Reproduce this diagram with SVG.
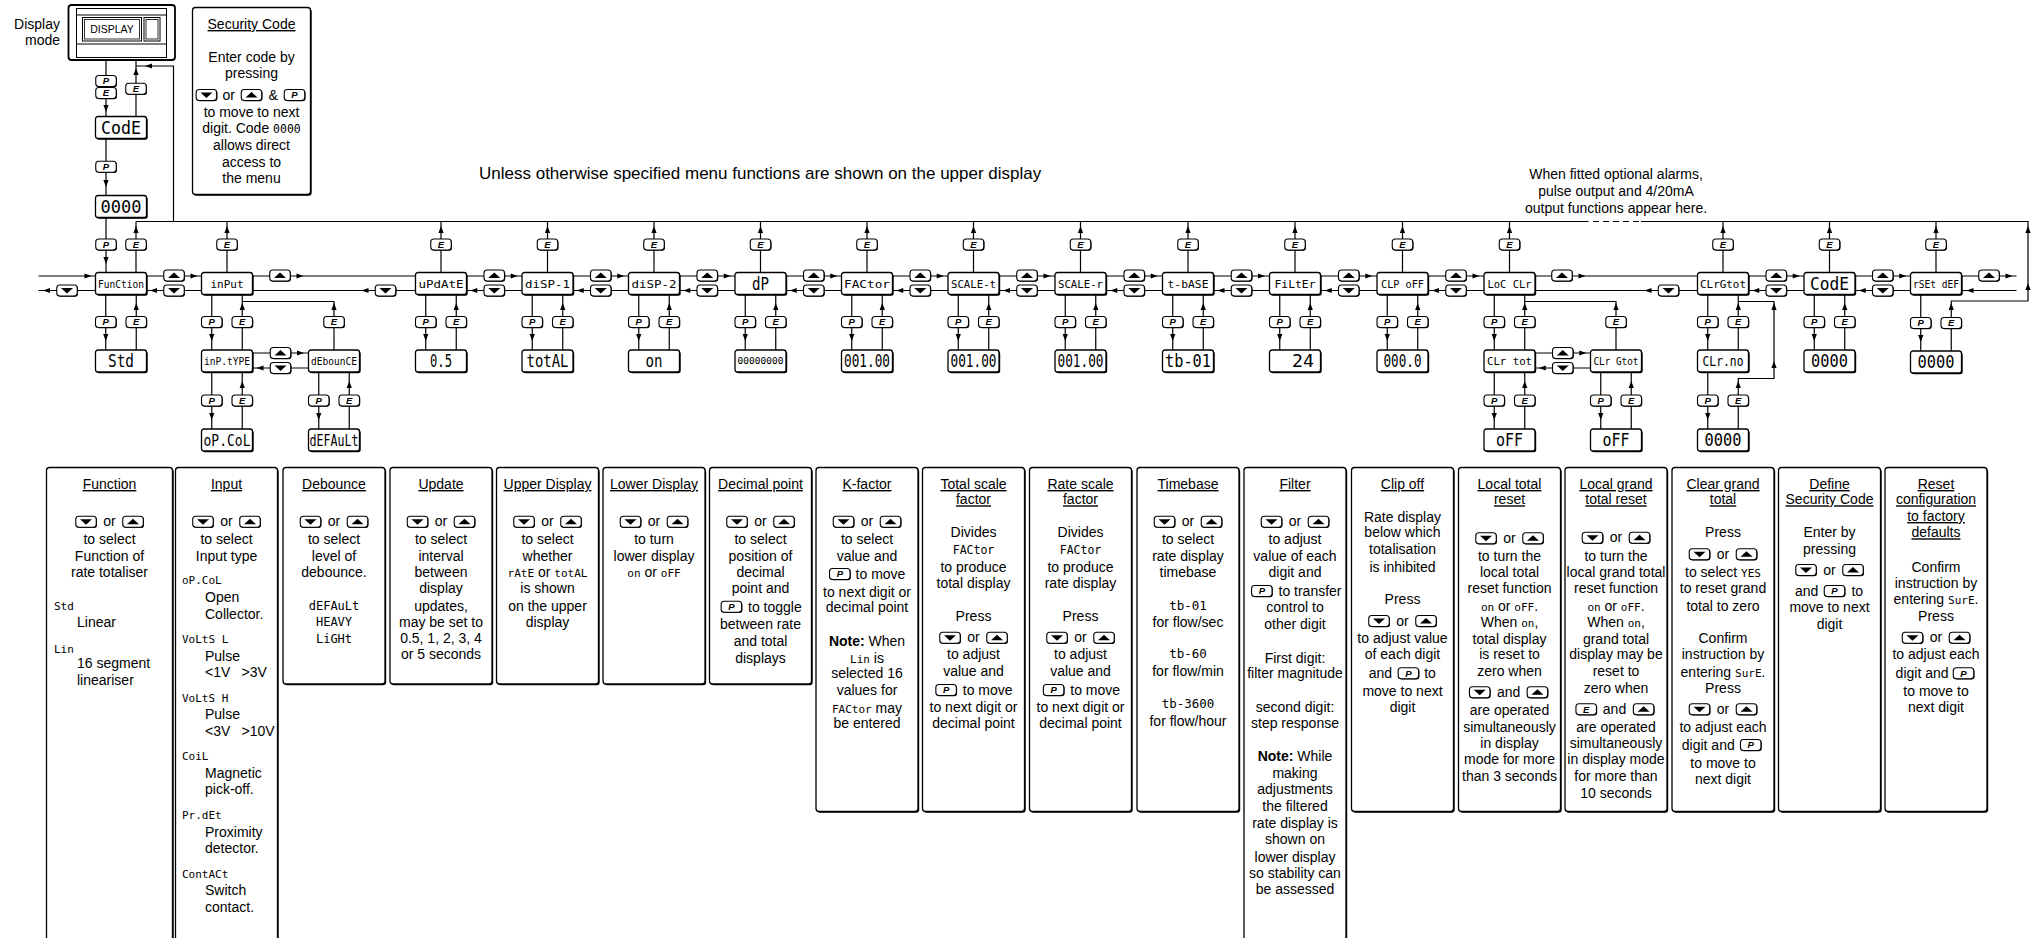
<svg xmlns="http://www.w3.org/2000/svg" width="2040" height="938" viewBox="0 0 2040 938">
<style>
.ln{fill:none;stroke:#000;stroke-width:1.2}
.bx{fill:#fff;stroke:#000;stroke-width:1.3}
.sd{fill:#000}
.t{font-family:"Liberation Sans",Arial,sans-serif;font-size:14px;fill:#000}
.m{text-anchor:middle}
.e{text-anchor:end}
.u{text-decoration:underline}
.b{font-weight:bold}
.sg{font-family:"DejaVu Sans Mono","Liberation Mono",monospace;font-size:11px}
.s7{font-family:"DejaVu Sans Mono","Liberation Mono",monospace;fill:#000;text-anchor:middle}
.bl{font-family:"Liberation Sans",Arial,sans-serif;font-size:9.5px;font-weight:bold;font-style:italic;text-anchor:middle;fill:#000}
</style>
<defs>
<g id="btn"><rect x="-9.5" y="-4.7" width="20.5" height="11" rx="3" fill="#000"/><rect x="-10.25" y="-5.5" width="20.5" height="11" rx="3" fill="#fff" stroke="#000" stroke-width="1.1"/></g>
<g id="bP"><use href="#btn"/><text class="bl" x="0" y="3.4">P</text></g>
<g id="bE"><use href="#btn"/><text class="bl" x="0" y="3.4">E</text></g>
<g id="bU"><use href="#btn"/><path d="M-6,2.5H6L0,-3Z"/></g>
<g id="bD"><use href="#btn"/><path d="M-6,-2.5H6L0,3Z"/></g>
<path id="au" d="M0,0L-2.6,7H2.6Z"/>
<path id="ad" d="M0,0L-2.6,-7H2.6Z"/>
<path id="ar" d="M0,0L-7,-2.6V2.6Z"/>
<path id="al" d="M0,0L7,-2.6V2.6Z"/>
<g id="nb"><rect x="-24.3" y="1.2" width="51" height="22" rx="2.5" fill="#000"/><rect x="-25.5" y="0" width="51" height="22" rx="2.5" fill="#fff" stroke="#000" stroke-width="1.3"/></g>
</defs>
<rect width="2040" height="938" fill="#fff"/>

<text class="t" x="479" y="178.5" style="font-size:17px">Unless otherwise specified menu functions are shown on the upper display</text>
<text class="t m" x="1616" y="179">When fitted optional alarms,</text>
<text class="t m" x="1616" y="196">pulse output and 4/20mA</text>
<text class="t m" x="1616" y="212.7">output functions appear here.</text>

<g id="connectors">
<path class="ln" d="M136,221.5H1588.5M1641,221.5H2028V301H1951.25V351M173.5,221.5V66H136M136,116.5V60M106,60V116.5M106,138.5V195.5M106,217.5V272.5M136,272.5V221.5M38.5,276H2016.5M38.5,290.5H2016.5M227,272.5V221.5M441,272.5V221.5M547.5,272.5V221.5M654,272.5V221.5M760.5,272.5V221.5M867,272.5V221.5M973.5,272.5V221.5M1080.5,272.5V221.5M1188,272.5V221.5M1295,272.5V221.5M1402.5,272.5V221.5M1509.5,272.5V221.5M1723,272.5V221.5M1829.5,272.5V221.5M1936,272.5V221.5M105.75,294.5V350M136.25,294.5V350M211.75,294.5V350M242.25,294.5V350M425.75,294.5V350M456.25,294.5V350M532.25,294.5V350M562.75,294.5V350M638.75,294.5V350M669.25,294.5V350M745.25,294.5V350M775.75,294.5V350M851.75,294.5V350M882.25,294.5V350M958.25,294.5V350M988.75,294.5V350M1065.25,294.5V350M1095.75,294.5V350M1172.75,294.5V350M1203.25,294.5V350M1279.75,294.5V350M1310.25,294.5V350M1387.25,294.5V350M1417.75,294.5V350M1494.25,294.5V350M1524.75,294.5V350M1707.75,294.5V350M1738.25,294.5V350M1814.25,294.5V350M1844.75,294.5V350M1920.75,294.5V351M242.25,301.5H334V350M1524.75,301.5H1616V350M1738.25,429V378.5H1774V301.5H1738.25M252.5,353H308.5M252.5,368H308.5M1535,353H1590.5M1535,368H1590.5M211.75,372V429M242.25,372V429M318.75,372V429M349.25,372V429M1494.25,372V429M1524.75,372V429M1600.75,372V429M1631.25,372V429M1707.75,372V429"/>
<path class="ln" d="M1593,221.5H1641" stroke-dasharray="6,4"/>
<!-- top E buttons and arrows -->
<use href="#bP" x="106" y="244.5"/>
<use href="#bE" x="136" y="244.5"/><use href="#bE" x="227" y="244.5"/><use href="#bE" x="441" y="244.5"/><use href="#bE" x="547.5" y="244.5"/><use href="#bE" x="654" y="244.5"/><use href="#bE" x="760.5" y="244.5"/><use href="#bE" x="867" y="244.5"/><use href="#bE" x="973.5" y="244.5"/><use href="#bE" x="1080.5" y="244.5"/><use href="#bE" x="1188" y="244.5"/><use href="#bE" x="1295" y="244.5"/><use href="#bE" x="1402.5" y="244.5"/><use href="#bE" x="1509.5" y="244.5"/><use href="#bE" x="1723" y="244.5"/><use href="#bE" x="1829.5" y="244.5"/><use href="#bE" x="1936" y="244.5"/>
<use href="#au" x="136" y="226"/><use href="#au" x="227" y="226"/><use href="#au" x="441" y="226"/><use href="#au" x="547.5" y="226"/><use href="#au" x="654" y="226"/><use href="#au" x="760.5" y="226"/><use href="#au" x="867" y="226"/><use href="#au" x="973.5" y="226"/><use href="#au" x="1080.5" y="226"/><use href="#au" x="1188" y="226"/><use href="#au" x="1295" y="226"/><use href="#au" x="1402.5" y="226"/><use href="#au" x="1509.5" y="226"/><use href="#au" x="1723" y="226"/><use href="#au" x="1829.5" y="226"/><use href="#au" x="1936" y="226"/><use href="#au" x="2028" y="226"/>
<!-- left column -->
<use href="#bP" x="106" y="81"/><use href="#bE" x="106" y="93"/><use href="#bE" x="136" y="88.7"/><use href="#bP" x="106" y="166.7"/>
<use href="#au" x="136" y="68"/><use href="#al" x="145" y="66"/><use href="#ad" x="106" y="112"/><use href="#ad" x="106" y="187"/><use href="#ad" x="106" y="264"/>
<!-- row 2 P/E -->
<use href="#bP" x="105.75" y="322"/><use href="#bP" x="211.75" y="322"/><use href="#bP" x="425.75" y="322"/><use href="#bP" x="532.25" y="322"/><use href="#bP" x="638.75" y="322"/><use href="#bP" x="745.25" y="322"/><use href="#bP" x="851.75" y="322"/><use href="#bP" x="958.25" y="322"/><use href="#bP" x="1065.25" y="322"/><use href="#bP" x="1172.75" y="322"/><use href="#bP" x="1279.75" y="322"/><use href="#bP" x="1387.25" y="322"/><use href="#bP" x="1494.25" y="322"/><use href="#bP" x="1707.75" y="322"/><use href="#bP" x="1814.25" y="322"/><use href="#bP" x="1920.75" y="323"/>
<use href="#bE" x="136.25" y="322"/><use href="#bE" x="242.25" y="322"/><use href="#bE" x="334" y="322"/><use href="#bE" x="456.25" y="322"/><use href="#bE" x="562.75" y="322"/><use href="#bE" x="669.25" y="322"/><use href="#bE" x="775.75" y="322"/><use href="#bE" x="882.25" y="322"/><use href="#bE" x="988.75" y="322"/><use href="#bE" x="1095.75" y="322"/><use href="#bE" x="1203.25" y="322"/><use href="#bE" x="1310.25" y="322"/><use href="#bE" x="1417.75" y="322"/><use href="#bE" x="1524.75" y="322"/><use href="#bE" x="1616" y="322"/><use href="#bE" x="1738.25" y="322"/><use href="#bE" x="1844.75" y="322"/><use href="#bE" x="1951.25" y="323"/>
<use href="#ad" x="105.75" y="341"/><use href="#ad" x="211.75" y="341"/><use href="#ad" x="425.75" y="341"/><use href="#ad" x="532.25" y="341"/><use href="#ad" x="638.75" y="341"/><use href="#ad" x="745.25" y="341"/><use href="#ad" x="851.75" y="341"/><use href="#ad" x="958.25" y="341"/><use href="#ad" x="1065.25" y="341"/><use href="#ad" x="1172.75" y="341"/><use href="#ad" x="1279.75" y="341"/><use href="#ad" x="1387.25" y="341"/><use href="#ad" x="1494.25" y="341"/><use href="#ad" x="1707.75" y="341"/><use href="#ad" x="1814.25" y="341"/><use href="#ad" x="1920.75" y="342"/>
<use href="#au" x="136.25" y="303"/><use href="#au" x="242.25" y="303"/><use href="#au" x="334" y="303"/><use href="#au" x="456.25" y="303"/><use href="#au" x="562.75" y="303"/><use href="#au" x="669.25" y="303"/><use href="#au" x="775.75" y="303"/><use href="#au" x="882.25" y="303"/><use href="#au" x="988.75" y="303"/><use href="#au" x="1095.75" y="303"/><use href="#au" x="1203.25" y="303"/><use href="#au" x="1310.25" y="303"/><use href="#au" x="1417.75" y="303"/><use href="#au" x="1524.75" y="303"/><use href="#au" x="1616" y="303"/><use href="#au" x="1738.25" y="303"/><use href="#au" x="1774" y="303"/><use href="#au" x="1774" y="361"/><use href="#au" x="1844.75" y="303"/><use href="#au" x="1951.25" y="303"/><use href="#au" x="2028" y="283"/>
<!-- row 3 P/E -->
<use href="#bP" x="211.75" y="400.5"/><use href="#bE" x="242.25" y="400.5"/><use href="#bP" x="318.75" y="400.5"/><use href="#bE" x="349.25" y="400.5"/><use href="#bP" x="1494.25" y="400.5"/><use href="#bE" x="1524.75" y="400.5"/><use href="#bP" x="1600.75" y="400.5"/><use href="#bE" x="1631.25" y="400.5"/><use href="#bP" x="1707.75" y="400.5"/><use href="#bE" x="1738.25" y="400.5"/>
<use href="#ad" x="211.75" y="420"/><use href="#ad" x="318.75" y="420"/><use href="#ad" x="1494.25" y="420"/><use href="#ad" x="1600.75" y="420"/><use href="#ad" x="1707.75" y="420"/>
<use href="#au" x="242.25" y="381"/><use href="#au" x="349.25" y="381"/><use href="#au" x="1524.75" y="381"/><use href="#au" x="1631.25" y="381"/><use href="#au" x="1738.25" y="381"/>
<!-- horizontal scroll buttons -->
<use href="#bD" x="67" y="290.5"/>
<use href="#bU" x="174" y="275.5"/><use href="#bD" x="174" y="290.5"/>
<use href="#bU" x="280" y="275.5"/><use href="#bD" x="385.5" y="290.5"/>
<use href="#bU" x="494.25" y="275.5"/><use href="#bD" x="494.25" y="290.5"/>
<use href="#bU" x="600.75" y="275.5"/><use href="#bD" x="600.75" y="290.5"/>
<use href="#bU" x="707.25" y="275.5"/><use href="#bD" x="707.25" y="290.5"/>
<use href="#bU" x="813.75" y="275.5"/><use href="#bD" x="813.75" y="290.5"/>
<use href="#bU" x="920.25" y="275.5"/><use href="#bD" x="920.25" y="290.5"/>
<use href="#bU" x="1027" y="275.5"/><use href="#bD" x="1027" y="290.5"/>
<use href="#bU" x="1134.25" y="275.5"/><use href="#bD" x="1134.25" y="290.5"/>
<use href="#bU" x="1241.5" y="275.5"/><use href="#bD" x="1241.5" y="290.5"/>
<use href="#bU" x="1348.75" y="275.5"/><use href="#bD" x="1348.75" y="290.5"/>
<use href="#bU" x="1456" y="275.5"/><use href="#bD" x="1456" y="290.5"/>
<use href="#bU" x="1562" y="275.5"/><use href="#bD" x="1668.5" y="290.5"/>
<use href="#bU" x="1776.25" y="275.5"/><use href="#bD" x="1776.25" y="290.5"/>
<use href="#bU" x="1882.75" y="275.5"/><use href="#bD" x="1882.75" y="290.5"/>
<use href="#bU" x="1989" y="275.5"/>
<use href="#bU" x="280.5" y="353"/><use href="#bD" x="280.5" y="368"/>
<use href="#bU" x="1562.75" y="353"/><use href="#bD" x="1562.75" y="368"/>
<use href="#ar" x="91.5" y="276"/><use href="#ar" x="197.5" y="276"/><use href="#ar" x="303.5" y="276"/><use href="#ar" x="517.75" y="276"/><use href="#ar" x="624.25" y="276"/><use href="#ar" x="730.75" y="276"/><use href="#ar" x="837.25" y="276"/><use href="#ar" x="943.75" y="276"/><use href="#ar" x="1050.5" y="276"/><use href="#ar" x="1157.75" y="276"/><use href="#ar" x="1265" y="276"/><use href="#ar" x="1372.25" y="276"/><use href="#ar" x="1479.5" y="276"/><use href="#ar" x="1585.5" y="276"/><use href="#ar" x="1799.75" y="276"/><use href="#ar" x="1906.25" y="276"/><use href="#ar" x="2012.5" y="276"/>
<use href="#al" x="43" y="290.5"/><use href="#al" x="150" y="290.5"/><use href="#al" x="361.5" y="290.5"/><use href="#al" x="470.25" y="290.5"/><use href="#al" x="576.75" y="290.5"/><use href="#al" x="683.25" y="290.5"/><use href="#al" x="789.75" y="290.5"/><use href="#al" x="896.25" y="290.5"/><use href="#al" x="1003" y="290.5"/><use href="#al" x="1110.25" y="290.5"/><use href="#al" x="1217.5" y="290.5"/><use href="#al" x="1324.75" y="290.5"/><use href="#al" x="1432" y="290.5"/><use href="#al" x="1644.5" y="290.5"/><use href="#al" x="1752.25" y="290.5"/><use href="#al" x="1858.75" y="290.5"/><use href="#al" x="1966.5" y="290.5"/>
<use href="#ar" x="304" y="353"/><use href="#al" x="256.5" y="368"/><use href="#ar" x="1586.25" y="353"/><use href="#al" x="1538.75" y="368"/>
</g>

<g id="display-mode">
<rect x="68.5" y="5" width="106.5" height="55" rx="3" fill="#fff" stroke="#000" stroke-width="1.8"/>
<rect x="76.5" y="8.5" width="90" height="49" fill="none" stroke="#000" stroke-width="1"/>
<path d="M76.5,15H166.5M76.5,44H166.5" fill="none" stroke="#000" stroke-width="1"/>
<rect x="82.5" y="17.5" width="59" height="23.5" fill="none" stroke="#000" stroke-width="1"/>
<rect x="84.5" y="19.5" width="55" height="19.5" fill="none" stroke="#000" stroke-width="0.8"/>
<rect x="144" y="17.5" width="16" height="23.5" fill="none" stroke="#000" stroke-width="1"/>
<rect x="146" y="19.5" width="12" height="19.5" fill="none" stroke="#000" stroke-width="0.8"/>
<text class="t m" x="112" y="32.5" style="font-size:10.5px">DISPLAY</text>
<text class="t e" x="60" y="29">Display</text>
<text class="t e" x="60" y="45">mode</text>
</g>

<g id="security-code">
<rect class="sd" x="193.7" y="8.7" width="118" height="187" rx="3"/>
<rect class="bx" x="192.5" y="7.5" width="118" height="187" rx="3"/>
<text class="t m u" x="251.5" y="29">Security Code</text>
<text class="t m" x="251.5" y="61.7">Enter code by</text>
<text class="t m" x="251.5" y="77.7">pressing</text>
<use href="#bD" x="206.4" y="95"/><text class="t m" x="228.8" y="99.5">or</text><use href="#bU" x="251.5" y="95"/><text class="t m" x="273.2" y="100">&amp;</text><use href="#bP" x="294.5" y="95"/>
<text class="t m" x="251.5" y="116.7">to move to next</text>
<text class="t m" x="251.5" y="133.3">digit. Code <tspan class="sg" style="font-size:11.5px">0000</tspan></text>
<text class="t m" x="251.5" y="150">allows direct</text>
<text class="t m" x="251.5" y="166.7">access to</text>
<text class="t m" x="251.5" y="183.3">the menu</text>
</g>

<g id="n-code"><use href="#nb" x="121" y="116.5"/><text class="s7" x="121" y="133.7" font-size="17" textLength="40" lengthAdjust="spacingAndGlyphs">CodE</text></g>
<g id="n-code-value"><use href="#nb" x="121" y="195.5"/><text class="s7" x="121" y="212.7" font-size="17" textLength="41" lengthAdjust="spacingAndGlyphs">0000</text></g>

<g id="n-function"><use href="#nb" x="121" y="272.5"/><text class="s7" x="121" y="287.5" font-size="11" textLength="46" lengthAdjust="spacingAndGlyphs">FunCtion</text></g>
<g id="n-input"><use href="#nb" x="227" y="272.5"/><text class="s7" x="227" y="287.5" font-size="11" textLength="33" lengthAdjust="spacingAndGlyphs">inPut</text></g>
<g id="n-update"><use href="#nb" x="441" y="272.5"/><text class="s7" x="441" y="287.5" font-size="11" textLength="45" lengthAdjust="spacingAndGlyphs">uPdAtE</text></g>
<g id="n-disp1"><use href="#nb" x="547.5" y="272.5"/><text class="s7" x="547.5" y="287.5" font-size="11" textLength="45" lengthAdjust="spacingAndGlyphs">diSP-1</text></g>
<g id="n-disp2"><use href="#nb" x="654" y="272.5"/><text class="s7" x="654" y="287.5" font-size="11" textLength="45" lengthAdjust="spacingAndGlyphs">diSP-2</text></g>
<g id="n-dp"><use href="#nb" x="760.5" y="272.5"/><text class="s7" x="760.5" y="289.7" font-size="17" textLength="17" lengthAdjust="spacingAndGlyphs">dP</text></g>
<g id="n-factor"><use href="#nb" x="867" y="272.5"/><text class="s7" x="867" y="287.5" font-size="11" textLength="46" lengthAdjust="spacingAndGlyphs">FACtor</text></g>
<g id="n-scale-t"><use href="#nb" x="973.5" y="272.5"/><text class="s7" x="973.5" y="287.5" font-size="11" textLength="45" lengthAdjust="spacingAndGlyphs">SCALE-t</text></g>
<g id="n-scale-r"><use href="#nb" x="1080.5" y="272.5"/><text class="s7" x="1080.5" y="287.5" font-size="11" textLength="45" lengthAdjust="spacingAndGlyphs">SCALE-r</text></g>
<g id="n-tbase"><use href="#nb" x="1188" y="272.5"/><text class="s7" x="1188" y="287.5" font-size="11" textLength="41" lengthAdjust="spacingAndGlyphs">t-bASE</text></g>
<g id="n-filter"><use href="#nb" x="1295" y="272.5"/><text class="s7" x="1295" y="287.5" font-size="11" textLength="41" lengthAdjust="spacingAndGlyphs">FiLtEr</text></g>
<g id="n-clpoff"><use href="#nb" x="1402.5" y="272.5"/><text class="s7" x="1402.5" y="287.5" font-size="11" textLength="43" lengthAdjust="spacingAndGlyphs">CLP oFF</text></g>
<g id="n-locclr"><use href="#nb" x="1509.5" y="272.5"/><text class="s7" x="1509.5" y="287.5" font-size="11" textLength="44" lengthAdjust="spacingAndGlyphs">LoC CLr</text></g>
<g id="n-clrgtot"><use href="#nb" x="1723" y="272.5"/><text class="s7" x="1723" y="287.5" font-size="11" textLength="46" lengthAdjust="spacingAndGlyphs">CLrGtot</text></g>
<g id="n-code2"><use href="#nb" x="1829.5" y="272.5"/><text class="s7" x="1829.5" y="289.7" font-size="17" textLength="39" lengthAdjust="spacingAndGlyphs">CodE</text></g>
<g id="n-rsetdef"><use href="#nb" x="1936" y="272.5"/><text class="s7" x="1936" y="287.5" font-size="11" textLength="46" lengthAdjust="spacingAndGlyphs">rSEt dEF</text></g>

<g id="n-std"><use href="#nb" x="121" y="350"/><text class="s7" x="121" y="367.2" font-size="17" textLength="26" lengthAdjust="spacingAndGlyphs">Std</text></g>
<g id="n-inptype"><use href="#nb" x="227" y="350"/><text class="s7" x="227" y="365" font-size="11" textLength="46" lengthAdjust="spacingAndGlyphs">inP.tYPE</text></g>
<g id="n-debounce"><use href="#nb" x="334" y="350"/><text class="s7" x="334" y="365" font-size="11" textLength="46" lengthAdjust="spacingAndGlyphs">dEbounCE</text></g>
<g id="n-update-value"><use href="#nb" x="441" y="350"/><text class="s7" x="441" y="367.2" font-size="17" textLength="22" lengthAdjust="spacingAndGlyphs">0.5</text></g>
<g id="n-disp1-value"><use href="#nb" x="547.5" y="350"/><text class="s7" x="547.5" y="367.2" font-size="17" textLength="42" lengthAdjust="spacingAndGlyphs">totAL</text></g>
<g id="n-disp2-value"><use href="#nb" x="654" y="350"/><text class="s7" x="654" y="366.5" font-size="17" textLength="17" lengthAdjust="spacingAndGlyphs">on</text></g>
<g id="n-dp-value"><use href="#nb" x="760.5" y="350"/><text class="s7" x="760.5" y="364" font-size="8.5" textLength="46" lengthAdjust="spacingAndGlyphs">00000000</text></g>
<g id="n-factor-value"><use href="#nb" x="867" y="350"/><text class="s7" x="867" y="367.2" font-size="17" textLength="46" lengthAdjust="spacingAndGlyphs">001.00</text></g>
<g id="n-scale-t-value"><use href="#nb" x="973.5" y="350"/><text class="s7" x="973.5" y="367.2" font-size="17" textLength="46" lengthAdjust="spacingAndGlyphs">001.00</text></g>
<g id="n-scale-r-value"><use href="#nb" x="1080.5" y="350"/><text class="s7" x="1080.5" y="367.2" font-size="17" textLength="46" lengthAdjust="spacingAndGlyphs">001.00</text></g>
<g id="n-tbase-value"><use href="#nb" x="1188" y="350"/><text class="s7" x="1188" y="367.2" font-size="17" textLength="46" lengthAdjust="spacingAndGlyphs">tb-01</text></g>
<g id="n-filter-value"><use href="#nb" x="1295" y="350"/><text class="s7" x="1314" y="367.2" font-size="17" text-anchor="end" style="text-anchor:end" textLength="22" lengthAdjust="spacingAndGlyphs">24</text></g>
<g id="n-clpoff-value"><use href="#nb" x="1402.5" y="350"/><text class="s7" x="1402.5" y="367.2" font-size="17" textLength="38" lengthAdjust="spacingAndGlyphs">000.0</text></g>
<g id="n-clrtot"><use href="#nb" x="1509.5" y="350"/><text class="s7" x="1509.5" y="365" font-size="11" textLength="45" lengthAdjust="spacingAndGlyphs">CLr tot</text></g>
<g id="n-clrgtot-sub"><use href="#nb" x="1616" y="350"/><text class="s7" x="1616" y="365" font-size="11" textLength="45" lengthAdjust="spacingAndGlyphs">CLr Gtot</text></g>
<g id="n-clrno"><use href="#nb" x="1723" y="350"/><text class="s7" x="1723" y="366" font-size="14" textLength="41" lengthAdjust="spacingAndGlyphs">CLr.no</text></g>
<g id="n-code2-value"><use href="#nb" x="1829.5" y="350"/><text class="s7" x="1829.5" y="367.2" font-size="17" textLength="37" lengthAdjust="spacingAndGlyphs">0000</text></g>
<g id="n-rsetdef-value"><use href="#nb" x="1936" y="351"/><text class="s7" x="1936" y="368.2" font-size="17" textLength="37" lengthAdjust="spacingAndGlyphs">0000</text></g>

<g id="n-opcol"><use href="#nb" x="227" y="429"/><text class="s7" x="227" y="445.5" font-size="15" textLength="47" lengthAdjust="spacingAndGlyphs">oP.CoL</text></g>
<g id="n-default"><use href="#nb" x="334" y="429"/><text class="s7" x="334" y="445.5" font-size="15" textLength="49" lengthAdjust="spacingAndGlyphs">dEFAuLt</text></g>
<g id="n-clrtot-value"><use href="#nb" x="1509.5" y="429"/><text class="s7" x="1509.5" y="446.2" font-size="17" textLength="27" lengthAdjust="spacingAndGlyphs">oFF</text></g>
<g id="n-clrgtot-value"><use href="#nb" x="1616" y="429"/><text class="s7" x="1616" y="446.2" font-size="17" textLength="27" lengthAdjust="spacingAndGlyphs">oFF</text></g>
<g id="n-clrno-value"><use href="#nb" x="1723" y="429"/><text class="s7" x="1723" y="446.2" font-size="17" textLength="37" lengthAdjust="spacingAndGlyphs">0000</text></g>

<g id="d-function">
<rect class="sd" x="47.7" y="468.7" width="126" height="480" rx="3"/><rect class="bx" x="46.5" y="467.5" width="126" height="480" rx="3"/>
<text class="t m u" x="109.5" y="489">Function</text>
<use href="#bD" x="86" y="521.7"/><text class="t m" x="109.5" y="526.2">or</text><use href="#bU" x="133" y="521.7"/>
<text class="t m" x="109.5" y="544">to select</text>
<text class="t m" x="109.5" y="560.7">Function of</text>
<text class="t m" x="109.5" y="576.7">rate totaliser</text>
<text class="sg" x="54" y="610">Std</text>
<text class="t" x="77" y="626.7">Linear</text>
<text class="sg" x="54" y="652.5">Lin</text>
<text class="t" x="77" y="668.3">16 segment</text>
<text class="t" x="77" y="685">lineariser</text>
</g>

<g id="d-input">
<rect class="sd" x="176.7" y="468.7" width="102" height="480" rx="3"/><rect class="bx" x="175.5" y="467.5" width="102" height="480" rx="3"/>
<text class="t m u" x="226.5" y="489">Input</text>
<use href="#bD" x="203" y="521.7"/><text class="t m" x="226.5" y="526.2">or</text><use href="#bU" x="250" y="521.7"/>
<text class="t m" x="226.5" y="544">to select</text>
<text class="t m" x="226.5" y="560.7">Input type</text>
<text class="sg" x="182" y="584">oP.CoL</text>
<text class="t" x="205" y="602.3">Open</text>
<text class="t" x="205" y="619">Collector.</text>
<text class="sg" x="182" y="643.3">VoLtS L</text>
<text class="t" x="205" y="661">Pulse</text>
<text class="t" y="677"><tspan x="205">&lt;1V</tspan><tspan x="241.6">&gt;3V</tspan></text>
<text class="sg" x="182" y="701.7">VoLtS H</text>
<text class="t" x="205" y="719.3">Pulse</text>
<text class="t" y="735.7"><tspan x="205">&lt;3V</tspan><tspan x="241.6">&gt;10V</tspan></text>
<text class="sg" x="182" y="760">CoiL</text>
<text class="t" x="205" y="778.3">Magnetic</text>
<text class="t" x="205" y="794.3">pick-off.</text>
<text class="sg" x="182" y="819">Pr.dEt</text>
<text class="t" x="205" y="836.7">Proximity</text>
<text class="t" x="205" y="853.3">detector.</text>
<text class="sg" x="182" y="878.3">ContACt</text>
<text class="t" x="205" y="895">Switch</text>
<text class="t" x="205" y="911.7">contact.</text>
</g>

<g id="d-debounce">
<rect class="sd" x="284.2" y="468.7" width="102" height="216.5" rx="3"/><rect class="bx" x="283" y="467.5" width="102" height="216.5" rx="3"/>
<text class="t m u" x="334" y="489">Debounce</text>
<use href="#bD" x="310.5" y="521.7"/><text class="t m" x="334" y="526.2">or</text><use href="#bU" x="357.5" y="521.7"/>
<text class="t m" x="334" y="544">to select</text>
<text class="t m" x="334" y="560.7">level of</text>
<text class="t m" x="334" y="576.7">debounce.</text>
<text class="s7" x="334" y="610" font-size="12">dEFAuLt</text>
<text class="s7" x="334" y="626" font-size="12">HEAVY</text>
<text class="s7" x="334" y="643" font-size="12">LiGHt</text>
</g>

<g id="d-update">
<rect class="sd" x="391.2" y="468.7" width="102" height="216.5" rx="3"/><rect class="bx" x="390" y="467.5" width="102" height="216.5" rx="3"/>
<text class="t m u" x="441" y="489">Update</text>
<use href="#bD" x="417.5" y="521.7"/><text class="t m" x="441" y="526.2">or</text><use href="#bU" x="464.5" y="521.7"/>
<text class="t m" x="441" y="544">to select</text>
<text class="t m" x="441" y="560.7">interval</text>
<text class="t m" x="441" y="576.7">between</text>
<text class="t m" x="441" y="593.3">display</text>
<text class="t m" x="441" y="610.7">updates,</text>
<text class="t m" x="441" y="626.7">may be set to</text>
<text class="t m" x="441" y="643.3">0.5, 1, 2, 3, 4</text>
<text class="t m" x="441" y="659.3">or 5 seconds</text>
</g>

<g id="d-upper-display">
<rect class="sd" x="497.7" y="468.7" width="102" height="216.5" rx="3"/><rect class="bx" x="496.5" y="467.5" width="102" height="216.5" rx="3"/>
<text class="t m u" x="547.5" y="489">Upper Display</text>
<use href="#bD" x="524" y="521.7"/><text class="t m" x="547.5" y="526.2">or</text><use href="#bU" x="571" y="521.7"/>
<text class="t m" x="547.5" y="544">to select</text>
<text class="t m" x="547.5" y="560.7">whether</text>
<text class="t m" x="547.5" y="576.7"><tspan class="sg">rAtE</tspan> or <tspan class="sg">totAL</tspan></text>
<text class="t m" x="547.5" y="593.3">is shown</text>
<text class="t m" x="547.5" y="610.7">on the upper</text>
<text class="t m" x="547.5" y="626.7">display</text>
</g>

<g id="d-lower-display">
<rect class="sd" x="604.2" y="468.7" width="102" height="216.5" rx="3"/><rect class="bx" x="603" y="467.5" width="102" height="216.5" rx="3"/>
<text class="t m u" x="654" y="489">Lower Display</text>
<use href="#bD" x="630.5" y="521.7"/><text class="t m" x="654" y="526.2">or</text><use href="#bU" x="677.5" y="521.7"/>
<text class="t m" x="654" y="544">to turn</text>
<text class="t m" x="654" y="560.7">lower display</text>
<text class="t m" x="654" y="576.7"><tspan class="sg">on</tspan> or <tspan class="sg">oFF</tspan></text>
</g>

<g id="d-decimal-point">
<rect class="sd" x="710.7" y="468.7" width="102" height="216.5" rx="3"/><rect class="bx" x="709.5" y="467.5" width="102" height="216.5" rx="3"/>
<text class="t m u" x="760.5" y="489">Decimal point</text>
<use href="#bD" x="737" y="521.7"/><text class="t m" x="760.5" y="526.2">or</text><use href="#bU" x="784" y="521.7"/>
<text class="t m" x="760.5" y="544">to select</text>
<text class="t m" x="760.5" y="560.7">position of</text>
<text class="t m" x="760.5" y="576.7">decimal</text>
<text class="t m" x="760.5" y="593.3">point and</text>
<use href="#bP" x="731.4" y="606.7"/><text class="t" x="748" y="611.7">to toggle</text>
<text class="t m" x="760.5" y="629.3">between rate</text>
<text class="t m" x="760.5" y="645.7">and total</text>
<text class="t m" x="760.5" y="662.7">displays</text>
</g>

<g id="d-k-factor">
<rect class="sd" x="817.2" y="468.7" width="102" height="344" rx="3"/><rect class="bx" x="816" y="467.5" width="102" height="344" rx="3"/>
<text class="t m u" x="867" y="489">K-factor</text>
<use href="#bD" x="843.5" y="521.7"/><text class="t m" x="867" y="526.2">or</text><use href="#bU" x="890.5" y="521.7"/>
<text class="t m" x="867" y="544">to select</text>
<text class="t m" x="867" y="560.7">value and</text>
<use href="#bP" x="839.8" y="574"/><text class="t" x="855.6" y="579">to move</text>
<text class="t m" x="867" y="596.7">to next digit or</text>
<text class="t m" x="867" y="612.3">decimal point</text>
<text class="t m" x="867" y="645.7"><tspan class="b">Note:</tspan> When</text>
<text class="t m" x="867" y="662.7"><tspan class="sg">Lin</tspan> is</text>
<text class="t m" x="867" y="678.3">selected 16</text>
<text class="t m" x="867" y="695">values for</text>
<text class="t m" x="867" y="712.7"><tspan class="sg">FACtor</tspan> may</text>
<text class="t m" x="867" y="728.3">be entered</text>
</g>

<g id="d-total-scale">
<rect class="sd" x="923.7" y="468.7" width="102" height="344" rx="3"/><rect class="bx" x="922.5" y="467.5" width="102" height="344" rx="3"/>
<text class="t m u" x="973.5" y="489">Total scale</text>
<text class="t m u" x="973.5" y="504.3">factor</text>
<text class="t m" x="973.5" y="537.3">Divides</text>
<text class="s7" x="973.5" y="553.5" font-size="11.5">FACtor</text>
<text class="t m" x="973.5" y="571.7">to produce</text>
<text class="t m" x="973.5" y="587.7">total display</text>
<text class="t m" x="973.5" y="620.7">Press</text>
<use href="#bD" x="950" y="637.7"/><text class="t m" x="973.5" y="642.2">or</text><use href="#bU" x="997" y="637.7"/>
<text class="t m" x="973.5" y="659.3">to adjust</text>
<text class="t m" x="973.5" y="676">value and</text>
<use href="#bP" x="946.1" y="690"/><text class="t" x="962.8" y="695">to move</text>
<text class="t m" x="973.5" y="712.3">to next digit or</text>
<text class="t m" x="973.5" y="728.3">decimal point</text>
</g>

<g id="d-rate-scale">
<rect class="sd" x="1030.7" y="468.7" width="102" height="344" rx="3"/><rect class="bx" x="1029.5" y="467.5" width="102" height="344" rx="3"/>
<text class="t m u" x="1080.5" y="489">Rate scale</text>
<text class="t m u" x="1080.5" y="504.3">factor</text>
<text class="t m" x="1080.5" y="537.3">Divides</text>
<text class="s7" x="1080.5" y="553.5" font-size="11.5">FACtor</text>
<text class="t m" x="1080.5" y="571.7">to produce</text>
<text class="t m" x="1080.5" y="587.7">rate display</text>
<text class="t m" x="1080.5" y="620.7">Press</text>
<use href="#bD" x="1057" y="637.7"/><text class="t m" x="1080.5" y="642.2">or</text><use href="#bU" x="1104" y="637.7"/>
<text class="t m" x="1080.5" y="659.3">to adjust</text>
<text class="t m" x="1080.5" y="676">value and</text>
<use href="#bP" x="1053.6" y="690"/><text class="t" x="1070.3" y="695">to move</text>
<text class="t m" x="1080.5" y="712.3">to next digit or</text>
<text class="t m" x="1080.5" y="728.3">decimal point</text>
</g>

<g id="d-timebase">
<rect class="sd" x="1138.2" y="468.7" width="102" height="344" rx="3"/><rect class="bx" x="1137" y="467.5" width="102" height="344" rx="3"/>
<text class="t m u" x="1188" y="489">Timebase</text>
<use href="#bD" x="1164.5" y="521.7"/><text class="t m" x="1188" y="526.2">or</text><use href="#bU" x="1211.5" y="521.7"/>
<text class="t m" x="1188" y="544">to select</text>
<text class="t m" x="1188" y="560.7">rate display</text>
<text class="t m" x="1188" y="576.7">timebase</text>
<text class="s7" x="1188" y="609.7" font-size="12.5">tb-01</text>
<text class="t m" x="1188" y="626.7">for flow/sec</text>
<text class="s7" x="1188" y="658.3" font-size="12.5">tb-60</text>
<text class="t m" x="1188" y="676">for flow/min</text>
<text class="s7" x="1188" y="708.3" font-size="12.5">tb-3600</text>
<text class="t m" x="1188" y="725.7">for flow/hour</text>
</g>

<g id="d-filter">
<rect class="sd" x="1245.2" y="468.7" width="102" height="480" rx="3"/><rect class="bx" x="1244" y="467.5" width="102" height="480" rx="3"/>
<text class="t m u" x="1295" y="489">Filter</text>
<use href="#bD" x="1271.5" y="521.7"/><text class="t m" x="1295" y="526.2">or</text><use href="#bU" x="1318.5" y="521.7"/>
<text class="t m" x="1295" y="544">to adjust</text>
<text class="t m" x="1295" y="560.7">value of each</text>
<text class="t m" x="1295" y="576.7">digit and</text>
<use href="#bP" x="1261.8" y="591"/><text class="t" x="1278.5" y="596">to transfer</text>
<text class="t m" x="1295" y="612.3">control to</text>
<text class="t m" x="1295" y="629.3">other digit</text>
<text class="t m" x="1295" y="662.7">First digit:</text>
<text class="t m" x="1295" y="678.3">filter magnitude</text>
<text class="t m" x="1295" y="712.3">second digit:</text>
<text class="t m" x="1295" y="728.3">step response</text>
<text class="t m" x="1295" y="761"><tspan class="b">Note:</tspan> While</text>
<text class="t m" x="1295" y="778.3">making</text>
<text class="t m" x="1295" y="794.3">adjustments</text>
<text class="t m" x="1295" y="811">the filtered</text>
<text class="t m" x="1295" y="827.7">rate display is</text>
<text class="t m" x="1295" y="844.3">shown on</text>
<text class="t m" x="1295" y="861.7">lower display</text>
<text class="t m" x="1295" y="877.7">so stability can</text>
<text class="t m" x="1295" y="894.3">be assessed</text>
</g>

<g id="d-clip-off">
<rect class="sd" x="1352.7" y="468.7" width="102" height="344" rx="3"/><rect class="bx" x="1351.5" y="467.5" width="102" height="344" rx="3"/>
<text class="t m u" x="1402.5" y="489">Clip off</text>
<text class="t m" x="1402.5" y="521.7">Rate display</text>
<text class="t m" x="1402.5" y="537.3">below which</text>
<text class="t m" x="1402.5" y="554.3">totalisation</text>
<text class="t m" x="1402.5" y="571.7">is inhibited</text>
<text class="t m" x="1402.5" y="604.3">Press</text>
<use href="#bD" x="1379" y="621"/><text class="t m" x="1402.5" y="625.5">or</text><use href="#bU" x="1426" y="621"/>
<text class="t m" x="1402.5" y="643.3">to adjust value</text>
<text class="t m" x="1402.5" y="659.3">of each digit</text>
<text class="t" x="1368.7" y="678.3">and</text><use href="#bP" x="1408.4" y="673.3"/><text class="t" x="1424.2" y="678.3">to</text>
<text class="t m" x="1402.5" y="695.7">move to next</text>
<text class="t m" x="1402.5" y="712.3">digit</text>
</g>

<g id="d-local-total-reset">
<rect class="sd" x="1459.7" y="468.7" width="102" height="344" rx="3"/><rect class="bx" x="1458.5" y="467.5" width="102" height="344" rx="3"/>
<text class="t m u" x="1509.5" y="489">Local total</text>
<text class="t m u" x="1509.5" y="504.3">reset</text>
<use href="#bD" x="1486" y="538.3"/><text class="t m" x="1509.5" y="542.8">or</text><use href="#bU" x="1533" y="538.3"/>
<text class="t m" x="1509.5" y="560.7">to turn the</text>
<text class="t m" x="1509.5" y="576.7">local total</text>
<text class="t m" x="1509.5" y="593.3">reset function</text>
<text class="t m" x="1509.5" y="610.7"><tspan class="sg">on</tspan> or <tspan class="sg">oFF</tspan>.</text>
<text class="t m" x="1509.5" y="626.7">When <tspan class="sg">on</tspan>,</text>
<text class="t m" x="1509.5" y="644">total display</text>
<text class="t m" x="1509.5" y="659.3">is reset to</text>
<text class="t m" x="1509.5" y="676">zero when</text>
<use href="#bD" x="1479.7" y="692.3"/><text class="t m" x="1508.7" y="697">and</text><use href="#bU" x="1537.4" y="692.3"/>
<text class="t m" x="1509.5" y="715">are operated</text>
<text class="t m" x="1509.5" y="731.7">simultaneously</text>
<text class="t m" x="1509.5" y="748.3">in display</text>
<text class="t m" x="1509.5" y="764.3">mode for more</text>
<text class="t m" x="1509.5" y="781">than 3 seconds</text>
</g>

<g id="d-local-grand-total-reset">
<rect class="sd" x="1566.2" y="468.7" width="102" height="344" rx="3"/><rect class="bx" x="1565" y="467.5" width="102" height="344" rx="3"/>
<text class="t m u" x="1616" y="489">Local grand</text>
<text class="t m u" x="1616" y="504.3">total reset</text>
<use href="#bD" x="1592.5" y="537.7"/><text class="t m" x="1616" y="542.2">or</text><use href="#bU" x="1639.5" y="537.7"/>
<text class="t m" x="1616" y="560.7">to turn the</text>
<text class="t m" x="1616" y="576.7">local grand total</text>
<text class="t m" x="1616" y="593.3">reset function</text>
<text class="t m" x="1616" y="610.7"><tspan class="sg">on</tspan> or <tspan class="sg">oFF</tspan>.</text>
<text class="t m" x="1616" y="626.7">When <tspan class="sg">on</tspan>,</text>
<text class="t m" x="1616" y="644">grand total</text>
<text class="t m" x="1616" y="659.3">display may be</text>
<text class="t m" x="1616" y="676">reset to</text>
<text class="t m" x="1616" y="692.7">zero when</text>
<use href="#bE" x="1586.2" y="709.3"/><text class="t m" x="1614.5" y="714">and</text><use href="#bU" x="1643.6" y="709.3"/>
<text class="t m" x="1616" y="731.7">are operated</text>
<text class="t m" x="1616" y="748.3">simultaneously</text>
<text class="t m" x="1616" y="764.3">in display mode</text>
<text class="t m" x="1616" y="781">for more than</text>
<text class="t m" x="1616" y="798.3">10 seconds</text>
</g>

<g id="d-clear-grand-total">
<rect class="sd" x="1673.2" y="468.7" width="102" height="344" rx="3"/><rect class="bx" x="1672" y="467.5" width="102" height="344" rx="3"/>
<text class="t m u" x="1723" y="489">Clear grand</text>
<text class="t m u" x="1723" y="504.3">total</text>
<text class="t m" x="1723" y="537.3">Press</text>
<use href="#bD" x="1699.5" y="554.3"/><text class="t m" x="1723" y="558.8">or</text><use href="#bU" x="1746.5" y="554.3"/>
<text class="t m" x="1723" y="576.7">to select <tspan class="sg">YES</tspan></text>
<text class="t m" x="1723" y="593.3">to reset grand</text>
<text class="t m" x="1723" y="610.7">total to zero</text>
<text class="t m" x="1723" y="643.3">Confirm</text>
<text class="t m" x="1723" y="659.3">instruction by</text>
<text class="t m" x="1723" y="677">entering <tspan class="sg">SurE</tspan>.</text>
<text class="t m" x="1723" y="692.7">Press</text>
<use href="#bD" x="1699.5" y="709.3"/><text class="t m" x="1723" y="713.8">or</text><use href="#bU" x="1746.5" y="709.3"/>
<text class="t m" x="1723" y="731.7">to adjust each</text>
<text class="t" x="1681.8" y="750">digit and</text><use href="#bP" x="1750.7" y="745"/>
<text class="t m" x="1723" y="767.7">to move to</text>
<text class="t m" x="1723" y="784.3">next digit</text>
</g>

<g id="d-define-security-code">
<rect class="sd" x="1779.7" y="468.7" width="102" height="344" rx="3"/><rect class="bx" x="1778.5" y="467.5" width="102" height="344" rx="3"/>
<text class="t m u" x="1829.5" y="489">Define</text>
<text class="t m u" x="1829.5" y="504.3">Security Code</text>
<text class="t m" x="1829.5" y="537.3">Enter by</text>
<text class="t m" x="1829.5" y="554.3">pressing</text>
<use href="#bD" x="1806" y="570"/><text class="t m" x="1829.5" y="574.5">or</text><use href="#bU" x="1853" y="570"/>
<text class="t" x="1795" y="596">and</text><use href="#bP" x="1834.5" y="591"/><text class="t" x="1851.4" y="596">to</text>
<text class="t m" x="1829.5" y="612.3">move to next</text>
<text class="t m" x="1829.5" y="629.3">digit</text>
</g>

<g id="d-reset-configuration">
<rect class="sd" x="1886.2" y="468.7" width="102" height="344" rx="3"/><rect class="bx" x="1885" y="467.5" width="102" height="344" rx="3"/>
<text class="t m u" x="1936" y="489">Reset</text>
<text class="t m u" x="1936" y="504.3">configuration</text>
<text class="t m u" x="1936" y="521">to factory</text>
<text class="t m u" x="1936" y="537.3">defaults</text>
<text class="t m" x="1936" y="571.7">Confirm</text>
<text class="t m" x="1936" y="587.7">instruction by</text>
<text class="t m" x="1936" y="604.3">entering <tspan class="sg">SurE</tspan>.</text>
<text class="t m" x="1936" y="620.7">Press</text>
<use href="#bD" x="1912.5" y="637.7"/><text class="t m" x="1936" y="642.2">or</text><use href="#bU" x="1959.5" y="637.7"/>
<text class="t m" x="1936" y="659.3">to adjust each</text>
<text class="t" x="1895.6" y="678.3">digit and</text><use href="#bP" x="1963.5" y="673.3"/>
<text class="t m" x="1936" y="695.7">to move to</text>
<text class="t m" x="1936" y="712.3">next digit</text>
</g>
</svg>
